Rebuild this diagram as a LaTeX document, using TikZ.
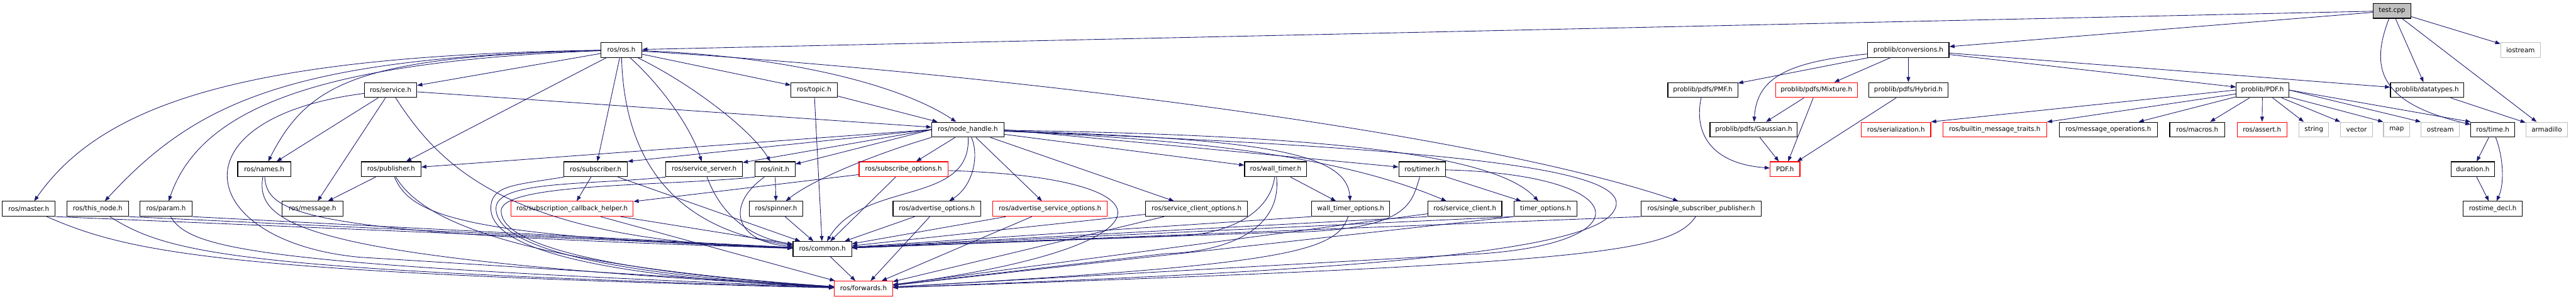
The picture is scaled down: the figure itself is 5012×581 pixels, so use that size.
\documentclass[tikz,border=0pt]{standalone}
\usepackage{fontspec}
\setmainfont{DejaVu Sans}
\usepackage{xcolor}
\usetikzlibrary{arrows.meta}
\definecolor{edgeblue}{RGB}{25,25,112}
\definecolor{extgray}{RGB}{191,191,191}

\begin{document}
\begin{tikzpicture}[x=0.75pt,y=-0.75pt,>={Triangle[length=7.5pt,width=5.5pt]},
  box/.style={draw=black, line width=1pt, inner sep=0pt, minimum height=21.75pt,
    font=\fontsize{9.5}{11}\selectfont},
  redbox/.style={box, draw=red},
  extbox/.style={box, draw=extgray},
  rootbox/.style={box, fill=extgray},
  boxw/.style={minimum width=#1*0.75pt},
  dep/.style={->, draw=edgeblue, line width=0.8pt}]
\useasboundingbox (0,0) rectangle (5012,581);

% files, one row after the other
\node[rootbox, boxw=73] (test) at (4654,21) {test.cpp};

\node[box, boxw=80] (ros) at (1209,97) {ros/ros.h};
\node[box, boxw=158] (conv) at (3713,97) {problib/conversions.h};
\node[extbox, boxw=77] (iostream) at (4904,97) {iostream};

\node[box, boxw=102] (service) at (760,175) {ros/service.h};
\node[box, boxw=90] (topic) at (1584,175) {ros/topic.h};
\node[box, boxw=136] (pmf) at (3313,175) {problib/pdfs/PMF.h};
\node[redbox, boxw=159] (mixture) at (3534,175) {problib/pdfs/Mixture.h};
\node[box, boxw=154] (hybrid) at (3713,175) {problib/pdfs/Hybrid.h};
\node[box, boxw=102] (pdflib) at (4402,175) {problib/PDF.h};
\node[box, boxw=142] (datatypes) at (4722,175) {problib/datatypes.h};

\node[box, boxw=140] (nodehandle) at (1883,252) {ros/node\_handle.h};
\node[box, boxw=170] (gaussian) at (3412,252) {problib/pdfs/Gaussian.h};
\node[redbox, boxw=135] (serialization) at (3689,252) {ros/serialization.h};
\node[redbox, boxw=202] (builtin) at (3881,252) {ros/builtin\_message\_traits.h};
\node[box, boxw=191] (msgops) at (4102,252) {ros/message\_operations.h};
\node[box, boxw=107] (macros) at (4275,252) {ros/macros.h};
\node[redbox, boxw=97] (assert) at (4401,252) {ros/assert.h};
\node[extbox, boxw=58] (string) at (4502,252) {string};
\node[extbox, boxw=62] (vector) at (4585,252) {vector};
\node[extbox, boxw=51] (map) at (4663,252) {map};
\node[extbox, boxw=75] (ostream) at (4748,252) {ostream};
\node[box, boxw=85] (time) at (4850,252) {ros/time.h};
\node[extbox, boxw=81] (armadillo) at (4955,252) {armadillo};

\node[box, boxw=103] (names) at (514,329) {ros/names.h};
\node[box, boxw=116] (publisher) at (761,329) {ros/publisher.h};
\node[box, boxw=123] (subscriber) at (1159,329) {ros/subscriber.h};
\node[box, boxw=149] (servserver) at (1370,329) {ros/service\_server.h};
\node[box, boxw=78] (init) at (1508,329) {ros/init.h};
\node[redbox, boxw=173] (subopts) at (1758,329) {ros/subscribe\_options.h};
\node[box, boxw=121] (walltimer) at (2482,329) {ros/wall\_timer.h};
\node[box, boxw=91] (timer) at (2767,329) {ros/timer.h};
\node[redbox, boxw=58] (pdf) at (3473,329) {PDF.h};
\node[box, boxw=85] (duration) at (4811,329) {duration.h};

\node[box, boxw=103] (master) at (56,406) {ros/master.h};
\node[box, boxw=120] (thisnode) at (190,406) {ros/this\_node.h};
\node[box, boxw=101] (param) at (323,406) {ros/param.h};
\node[box, boxw=118] (message) at (608,406) {ros/message.h};
\node[redbox, boxw=238] (subcb) at (1113,406) {ros/subscription\_callback\_helper.h};
\node[box, boxw=104] (spinner) at (1510,406) {ros/spinner.h};
\node[box, boxw=171] (advopts) at (1823,406) {ros/advertise\_options.h};
\node[redbox, boxw=223] (advsrvopts) at (2043,406) {ros/advertise\_service\_options.h};
\node[box, boxw=198] (srvclientopts) at (2328,406) {ros/service\_client\_options.h};
\node[box, boxw=152] (walltimeropts) at (2628,406) {wall\_timer\_options.h};
\node[box, boxw=144] (srvclient) at (2850,406) {ros/service\_client.h};
\node[box, boxw=123] (timeropts) at (3007,406) {timer\_options.h};
\node[box, boxw=233] (singlesub) at (3310,406) {ros/single\_subscriber\_publisher.h};
\node[box, boxw=115] (rostimedecl) at (4850,406) {rostime\_decl.h};

\node[box, boxw=114] (common) at (1600,484) {ros/common.h};
\node[redbox, boxw=113] (forwards) at (1680,561) {ros/forwards.h};

% problib side
\foreach \src/\dst in {test/ros, test/conv, test/datatypes, test/armadillo, test/iostream,
    conv/pmf, conv/mixture, conv/hybrid, conv/pdflib, conv/datatypes,
    mixture/gaussian, mixture/pdf, hybrid/pdf, gaussian/pdf,
    pdflib.west/serialization.north east, pdflib/builtin, pdflib/msgops, pdflib/macros,
    pdflib/assert, pdflib/string, pdflib/vector.north west, pdflib/map.north west,
    pdflib.east/ostream.north west, pdflib.east/time.north west,
    datatypes/armadillo, time/duration, duration/rostimedecl}
  \draw[dep] (\src) -- (\dst);
\draw[dep] (test) .. controls (4612,130) and (4625,200) .. (time);
\draw[dep] (conv) .. controls (3480,120) and (3418,150) .. (gaussian);
\draw[dep] (pmf) .. controls (3295,260) and (3330,318) .. (pdf);
\draw[dep] (time) .. controls (4872,310) and (4872,360) .. (rostimedecl);

% roscpp side
\foreach \src/\dst in {ros/service, ros/publisher, ros/subscriber, ros/topic,
    service/names, service/message, service/nodehandle, publisher/message,
    topic/nodehandle, topic/common,
    nodehandle.west/publisher, nodehandle.west/subscriber.north east,
    nodehandle.west/servserver, nodehandle.west/init,
    nodehandle/subopts, nodehandle/advsrvopts, nodehandle/srvclientopts,
    nodehandle/walltimer, nodehandle.east/timer,
    subscriber/subcb, subscriber/common, init/spinner, spinner/common,
    subopts/subcb, subopts/common, walltimer/walltimeropts, timer/timeropts}
  \draw[dep] (\src) -- (\dst);
\foreach \src in {master.south east, thisnode.south east, param.south east, subcb,
    advopts, advsrvopts, srvclientopts, walltimeropts.south west,
    srvclient.south west, timeropts.south west, singlesub.south west}
  \draw[dep] (\src) -- (common);
\foreach \src in {subcb, advopts, advsrvopts, srvclientopts, srvclient,
    timeropts.south west, common}
  \draw[dep] (\src) -- (forwards);

\draw[dep] (ros) .. controls (480,108) and (200,200) .. (master);
\draw[dep] (ros) .. controls (560,112) and (380,200) .. (thisnode);
\draw[dep] (ros) .. controls (620,120) and (390,210) .. (param);
\draw[dep] (ros) .. controls (700,110) and (600,160) .. (names);
\draw[dep] (ros) .. controls (1290,170) and (1345,250) .. (servserver);
\draw[dep] (ros) .. controls (1340,160) and (1460,250) .. (init);
\draw[dep] (ros) .. controls (1215,330) and (1330,450) .. (common);
\draw[dep] (ros) .. controls (1550,110) and (1760,170) .. (nodehandle);
\draw[dep] (ros) .. controls (1900,140) and (2850,250) .. (singlesub);

\draw[dep] (service) .. controls (330,230) and (380,470) .. (700,500) -- (forwards);
\draw[dep] (service) .. controls (860,330) and (1000,470) .. (common);

\draw[dep] (nodehandle.south west) .. controls (1700,300) and (1580,350) .. (spinner);
\draw[dep] (nodehandle) .. controls (1905,300) and (1895,360) .. (advopts);
\draw[dep] (nodehandle) .. controls (1890,400) and (1680,350) .. (common);
\draw[dep] (nodehandle) .. controls (2450,270) and (2620,295) .. (walltimeropts);
\draw[dep] (nodehandle) .. controls (2300,270) and (2600,300) .. (srvclient);
\draw[dep] (nodehandle) .. controls (2500,262) and (2900,290) .. (timeropts);
\draw[dep] (nodehandle) .. controls (2850,290) and (3190,330) .. (3140,410)
  .. controls (3090,500) and (2500,530) .. (forwards);

\draw[dep] (walltimer) .. controls (2470,420) and (2380,455) .. (2300,458) -- (common);
\draw[dep] (walltimer) .. controls (2495,450) and (2380,490) .. (2268,493) -- (forwards);
\draw[dep] (timer) .. controls (2745,400) and (2740,450) .. (2480,452) -- (common);
\draw[dep] (timer) .. controls (3190,340) and (3200,480) .. (2850,495) -- (forwards);
\draw[dep] (walltimeropts) .. controls (2600,490) and (2500,515) .. (forwards);
\draw[dep] (singlesub) .. controls (3250,490) and (3120,512) .. (forwards);
\draw[dep] (subopts) .. controls (2300,345) and (2300,480) .. (forwards);

\draw[dep] (master) .. controls (250,490) and (420,530) .. (forwards);
\draw[dep] (thisnode) .. controls (330,495) and (470,525) .. (forwards);
\draw[dep] (param) .. controls (370,485) and (500,515) .. (forwards);
\draw[dep] (names) .. controls (520,420) and (600,455) .. (common);
\draw[dep] (names) .. controls (495,440) and (600,505) .. (forwards);
\draw[dep] (publisher) .. controls (800,420) and (900,460) .. (common);
\draw[dep] (publisher) .. controls (810,410) and (940,510) .. (forwards);
\draw[dep] (subscriber.south west) .. controls (1000,360) and (955,360) .. (955,405)
  .. controls (955,490) and (1200,540) .. (forwards);
\draw[dep] (servserver.south west) .. controls (1150,360) and (965,350) .. (965,405)
  .. controls (965,485) and (1200,535) .. (forwards);
\draw[dep] (init.south west) .. controls (1300,362) and (975,355) .. (975,410)
  .. controls (975,480) and (1200,530) .. (forwards);
\draw[dep] (servserver) .. controls (1400,410) and (1450,460) .. (common);
\draw[dep] (init) .. controls (1410,400) and (1430,470) .. (common);
\end{tikzpicture}
\end{document}
